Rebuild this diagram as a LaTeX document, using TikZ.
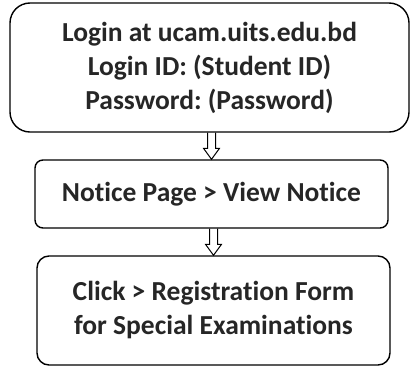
\documentclass[tikz,border=0pt]{standalone}
\usepackage{fontspec}
\setmainfont{Carlito}[Ligatures=NoCommon]
\frenchspacing
\usetikzlibrary{calc}
\tikzset{
  stepbox/.style={draw, line width=1.4pt, align=center, inner sep=0pt,
    font=\bfseries\fontsize{27.5}{34}\selectfont, text=black!85},
  hollow/.style={draw, line width=1pt, fill=white, line join=miter}
}
\begin{document}
\begin{tikzpicture}[x=1pt,y=-1pt]
      \useasboundingbox (0,0) rectangle (411,367);
      \draw
        (209.5,67.5) node[stepbox, minimum width=399pt, minimum height=129pt, rounded corners=20pt] (0)
          {Login at ucam.uits.edu.bd\\Login ID: (Student ID)\\Password: (Password)}
        (211.5,194) node[stepbox, minimum width=353pt, minimum height=68pt, rounded corners=8pt] (1)
          {Notice Page > View Notice}
        (213.5,310.5) node[stepbox, minimum width=353pt, minimum height=109pt, rounded corners=12pt] (2)
          {Click > Registration Form\\for Special Examinations};
      \begin{scope}[hollow]
        \draw ($(0.south -| 1.north)+(-4,0)$) -- ($(1.north)+(-4,-11)$) -- ++(-4,0)
          -- (1.north) -- ++(8,-11) -- ++(-4,0) -- ($(0.south -| 1.north)+(4,0)$);
        \draw ($(1.south -| 2.north)+(-4,0)$) -- ($(2.north)+(-4,-11)$) -- ++(-4,0)
          -- (2.north) -- ++(8,-11) -- ++(-4,0) -- ($(1.south -| 2.north)+(4,0)$);
      \end{scope}
\end{tikzpicture}
\end{document}
